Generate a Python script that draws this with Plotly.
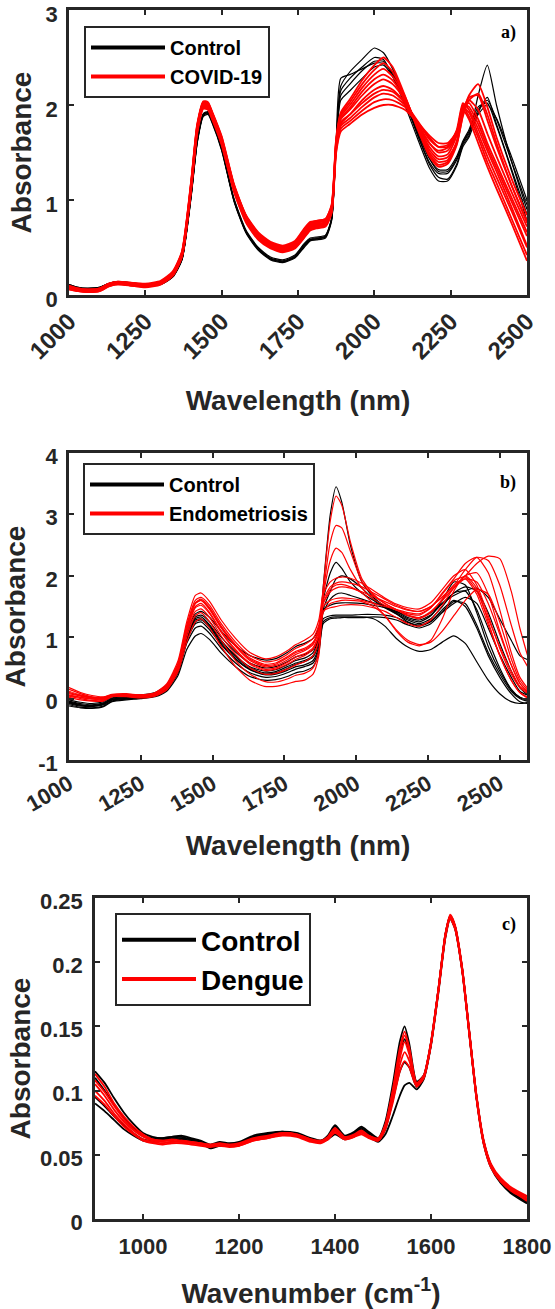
import plotly.graph_objects as go

# ---------------- Panel a: NIR, Control vs COVID-19 ----------------
a_wavelength = [1000, 1030, 1060, 1100, 1130, 1160, 1200, 1250,
                1300, 1340, 1370, 1400, 1420, 1440, 1455, 1470,
                1500, 1540, 1580, 1620, 1660, 1700, 1740, 1770,
                1790, 1810, 1840, 1860, 1875, 1890, 1920, 1960,
                2000, 2030, 2060, 2100, 2140, 2180, 2210, 2240,
                2270, 2290, 2310, 2340, 2370, 2400, 2450, 2500]

a_control = [
    [0.11, 0.08, 0.07, 0.08, 0.12, 0.14, 0.13, 0.11,
     0.12, 0.20, 0.38, 1.05, 1.62, 1.90, 1.92, 1.82,
     1.54, 1.00, 0.66, 0.48, 0.38, 0.35, 0.40, 0.52,
     0.58, 0.59, 0.62, 0.80, 1.60, 2.20, 2.35, 2.48,
     2.60, 2.55, 2.38, 2.06, 1.70, 1.38, 1.24, 1.22,
     1.38, 1.58, 1.68, 2.10, 2.42, 2.00, 1.40, 0.90],
    [0.10, 0.07, 0.06, 0.07, 0.11, 0.13, 0.12, 0.10,
     0.11, 0.19, 0.37, 1.03, 1.60, 1.88, 1.90, 1.80,
     1.52, 0.99, 0.65, 0.47, 0.37, 0.34, 0.39, 0.50,
     0.57, 0.58, 0.60, 0.78, 1.55, 2.10, 2.22, 2.36,
     2.46, 2.46, 2.32, 2.04, 1.70, 1.40, 1.28, 1.28,
     1.42, 1.60, 1.70, 1.95, 2.05, 1.85, 1.40, 0.95],
    [0.09, 0.06, 0.06, 0.07, 0.11, 0.13, 0.12, 0.10,
     0.11, 0.19, 0.37, 1.04, 1.61, 1.89, 1.91, 1.81,
     1.53, 1.00, 0.66, 0.48, 0.38, 0.35, 0.40, 0.51,
     0.58, 0.59, 0.61, 0.79, 1.58, 2.15, 2.28, 2.40,
     2.50, 2.48, 2.30, 2.00, 1.66, 1.34, 1.20, 1.20,
     1.36, 1.56, 1.66, 1.92, 2.08, 1.80, 1.32, 0.85],
    [0.10, 0.07, 0.07, 0.08, 0.12, 0.13, 0.12, 0.11,
     0.12, 0.20, 0.38, 1.06, 1.63, 1.91, 1.93, 1.83,
     1.55, 1.02, 0.68, 0.50, 0.40, 0.37, 0.42, 0.54,
     0.60, 0.61, 0.63, 0.81, 1.58, 2.05, 2.15, 2.28,
     2.40, 2.42, 2.30, 2.04, 1.72, 1.44, 1.32, 1.32,
     1.46, 1.62, 1.74, 1.98, 2.02, 1.78, 1.30, 0.78],
    [0.11, 0.08, 0.07, 0.08, 0.12, 0.14, 0.13, 0.11,
     0.12, 0.20, 0.38, 1.05, 1.62, 1.90, 1.92, 1.82,
     1.54, 1.01, 0.67, 0.49, 0.39, 0.36, 0.41, 0.53,
     0.59, 0.60, 0.62, 0.80, 1.62, 2.28, 2.32, 2.38,
     2.44, 2.44, 2.34, 2.06, 1.74, 1.44, 1.30, 1.30,
     1.44, 1.60, 1.72, 1.90, 2.00, 1.86, 1.45, 1.00],
]

a_covid = [
    [0.06, 0.04, 0.03, 0.04, 0.09, 0.11, 0.10, 0.08,
     0.11, 0.20, 0.40, 1.10, 1.70, 1.96, 1.95, 1.84,
     1.58, 1.09, 0.76, 0.58, 0.49, 0.45, 0.49, 0.60,
     0.68, 0.70, 0.72, 0.86, 1.50, 1.72, 1.80, 1.90,
     1.97, 2.00, 2.00, 1.95, 1.82, 1.68, 1.60, 1.60,
     1.72, 1.95, 1.85, 1.60, 1.35, 1.12, 0.75, 0.36],
    [0.07, 0.05, 0.04, 0.05, 0.10, 0.12, 0.11, 0.09,
     0.12, 0.21, 0.41, 1.12, 1.72, 1.98, 1.97, 1.86,
     1.60, 1.11, 0.78, 0.60, 0.50, 0.46, 0.50, 0.62,
     0.70, 0.72, 0.74, 0.88, 1.55, 1.78, 1.86, 1.98,
     2.08, 2.12, 2.10, 2.00, 1.80, 1.60, 1.52, 1.55,
     1.70, 1.98, 1.92, 1.70, 1.46, 1.24, 0.88, 0.50],
    [0.08, 0.06, 0.05, 0.06, 0.11, 0.13, 0.12, 0.10,
     0.13, 0.23, 0.43, 1.16, 1.76, 2.01, 2.00, 1.89,
     1.63, 1.14, 0.81, 0.63, 0.53, 0.49, 0.53, 0.66,
     0.73, 0.75, 0.77, 0.91, 1.60, 1.85, 1.95, 2.10,
     2.22, 2.27, 2.22, 2.05, 1.80, 1.56, 1.46, 1.48,
     1.68, 2.00, 1.98, 1.80, 1.56, 1.34, 0.98, 0.62],
    [0.09, 0.07, 0.06, 0.07, 0.12, 0.14, 0.13, 0.11,
     0.14, 0.24, 0.45, 1.18, 1.78, 2.03, 2.02, 1.91,
     1.65, 1.16, 0.83, 0.65, 0.55, 0.51, 0.55, 0.68,
     0.75, 0.77, 0.79, 0.93, 1.62, 1.88, 2.00, 2.18,
     2.32, 2.38, 2.30, 2.08, 1.78, 1.50, 1.40, 1.42,
     1.62, 1.96, 2.05, 1.95, 1.70, 1.46, 1.08, 0.72],
    [0.10, 0.07, 0.06, 0.07, 0.12, 0.14, 0.13, 0.12,
     0.15, 0.25, 0.46, 1.20, 1.80, 2.04, 2.03, 1.92,
     1.67, 1.17, 0.84, 0.66, 0.56, 0.52, 0.57, 0.70,
     0.77, 0.78, 0.80, 0.95, 1.65, 1.92, 2.06, 2.26,
     2.42, 2.50, 2.40, 2.10, 1.76, 1.46, 1.35, 1.38,
     1.58, 1.90, 2.10, 2.22, 1.98, 1.66, 1.22, 0.84],
    [0.07, 0.05, 0.04, 0.05, 0.10, 0.12, 0.11, 0.09,
     0.12, 0.22, 0.42, 1.14, 1.74, 1.99, 1.98, 1.87,
     1.61, 1.12, 0.79, 0.61, 0.51, 0.47, 0.51, 0.63,
     0.71, 0.73, 0.75, 0.89, 1.58, 1.82, 1.90, 2.02,
     2.12, 2.16, 2.14, 2.02, 1.84, 1.66, 1.56, 1.56,
     1.74, 2.02, 1.95, 1.75, 1.52, 1.30, 0.92, 0.52],
    [0.08, 0.06, 0.04, 0.05, 0.11, 0.13, 0.12, 0.10,
     0.13, 0.23, 0.44, 1.17, 1.77, 2.02, 2.01, 1.90,
     1.64, 1.15, 0.82, 0.64, 0.54, 0.50, 0.54, 0.67,
     0.74, 0.76, 0.78, 0.92, 1.60, 1.86, 1.97, 2.14,
     2.27, 2.32, 2.26, 2.06, 1.79, 1.53, 1.43, 1.45,
     1.60, 1.88, 2.05, 2.12, 1.90, 1.60, 1.15, 0.76],
    [0.06, 0.04, 0.03, 0.04, 0.09, 0.12, 0.10, 0.09,
     0.12, 0.21, 0.41, 1.13, 1.73, 1.97, 1.96, 1.85,
     1.59, 1.10, 0.77, 0.59, 0.50, 0.46, 0.50, 0.61,
     0.69, 0.71, 0.73, 0.87, 1.52, 1.75, 1.83, 1.94,
     2.03, 2.06, 2.05, 1.98, 1.83, 1.64, 1.56, 1.58,
     1.72, 1.98, 1.88, 1.66, 1.40, 1.18, 0.80, 0.42],
    [0.07, 0.05, 0.04, 0.05, 0.10, 0.13, 0.11, 0.10,
     0.13, 0.22, 0.42, 1.15, 1.75, 2.00, 1.99, 1.88,
     1.62, 1.13, 0.80, 0.62, 0.52, 0.48, 0.52, 0.64,
     0.72, 0.74, 0.76, 0.90, 1.56, 1.80, 1.90, 2.05,
     2.16, 2.20, 2.16, 2.03, 1.82, 1.60, 1.50, 1.52,
     1.70, 1.98, 2.02, 1.85, 1.60, 1.38, 1.02, 0.66],
    [0.09, 0.06, 0.05, 0.06, 0.11, 0.13, 0.12, 0.11,
     0.14, 0.24, 0.45, 1.19, 1.79, 2.03, 2.02, 1.91,
     1.66, 1.16, 0.83, 0.65, 0.55, 0.51, 0.56, 0.69,
     0.76, 0.78, 0.80, 0.94, 1.63, 1.90, 2.03, 2.22,
     2.37, 2.44, 2.35, 2.09, 1.77, 1.48, 1.37, 1.40,
     1.60, 1.93, 2.08, 2.10, 1.84, 1.56, 1.15, 0.78],
]

# ---------------- Panel b: NIR, Control vs Endometriosis ----------------
b_wavelength = [1000, 1040, 1080, 1120, 1150, 1200, 1250, 1300, 1340,
                1380, 1410, 1440, 1460, 1490, 1530, 1580, 1630, 1680,
                1720, 1760, 1790, 1820, 1850, 1870, 1885, 1910, 1930,
                1950, 1980, 2020, 2060, 2100, 2140, 2180, 2220, 2260,
                2300, 2340, 2380, 2420, 2460, 2500, 2540, 2570, 2600]

b_control = [
    [-0.08, -0.12, -0.13, -0.10, -0.02, 0.00, 0.02, 0.05, 0.15,
     0.45, 0.95, 1.22, 1.25, 1.12, 0.88, 0.64, 0.47, 0.39,
     0.40, 0.46, 0.52, 0.55, 0.62, 0.85, 1.30, 1.35, 1.36,
     1.36, 1.36, 1.37, 1.37, 1.36, 1.32, 1.24, 1.20, 1.26,
     1.42, 1.58, 1.55, 1.20, 0.75, 0.40, 0.12, 0.00, -0.05],
    [-0.05, -0.10, -0.11, -0.08, 0.00, 0.02, 0.03, 0.07, 0.18,
     0.50, 1.00, 1.30, 1.33, 1.20, 0.95, 0.70, 0.52, 0.45,
     0.47, 0.55, 0.62, 0.66, 0.75, 1.00, 1.80, 3.00, 3.45,
     3.20, 2.50, 1.90, 1.65, 1.50, 1.38, 1.25, 1.18, 1.25,
     1.45, 1.60, 1.50, 1.15, 0.70, 0.35, 0.08, -0.05, -0.08],
    [-0.10, -0.14, -0.15, -0.12, -0.04, -0.01, 0.01, 0.04, 0.14,
     0.42, 0.90, 1.15, 1.18, 1.06, 0.82, 0.58, 0.42, 0.35,
     0.36, 0.42, 0.48, 0.52, 0.58, 0.80, 1.25, 1.32, 1.33,
     1.33, 1.33, 1.33, 1.30, 1.18, 0.98, 0.84, 0.77, 0.80,
     0.92, 1.02, 0.90, 0.60, 0.30, 0.08, -0.05, -0.08, -0.06],
    [-0.06, -0.10, -0.12, -0.09, -0.01, 0.01, 0.03, 0.06, 0.17,
     0.48, 0.98, 1.28, 1.30, 1.18, 0.93, 0.68, 0.50, 0.42,
     0.44, 0.52, 0.58, 0.62, 0.70, 0.95, 1.60, 2.05, 2.22,
     2.12, 1.90, 1.72, 1.60, 1.48, 1.38, 1.28, 1.22, 1.30,
     1.50, 1.72, 1.75, 1.45, 0.95, 0.50, 0.15, 0.02, -0.02],
    [-0.02, -0.06, -0.08, -0.05, 0.03, 0.05, 0.06, 0.10, 0.22,
     0.55, 1.08, 1.38, 1.42, 1.32, 1.10, 0.86, 0.70, 0.63,
     0.65, 0.75, 0.85, 0.90, 0.98, 1.15, 1.45, 1.52, 1.55,
     1.56, 1.56, 1.55, 1.52, 1.48, 1.42, 1.35, 1.32, 1.40,
     1.55, 1.68, 1.76, 1.80, 1.65, 1.30, 0.95, 0.70, 0.63],
    [-0.07, -0.11, -0.12, -0.09, -0.02, 0.00, 0.02, 0.06, 0.16,
     0.46, 0.96, 1.25, 1.28, 1.16, 0.90, 0.65, 0.48, 0.40,
     0.42, 0.49, 0.56, 0.60, 0.68, 0.90, 1.45, 1.75, 1.95,
     2.00, 1.95, 1.80, 1.62, 1.50, 1.40, 1.30, 1.25, 1.35,
     1.60, 1.90, 1.85, 1.40, 0.85, 0.45, 0.15, 0.02, -0.03],
    [-0.12, -0.15, -0.16, -0.13, -0.05, -0.02, 0.00, 0.03, 0.12,
     0.38, 0.80, 1.02, 1.06, 0.96, 0.74, 0.52, 0.36, 0.30,
     0.31, 0.36, 0.42, 0.45, 0.52, 0.75, 1.22, 1.30, 1.31,
     1.32, 1.32, 1.32, 1.33, 1.32, 1.28, 1.20, 1.15, 1.22,
     1.40, 1.55, 1.65, 1.55, 1.15, 0.72, 0.35, 0.12, 0.05],
    [-0.04, -0.08, -0.10, -0.07, 0.01, 0.03, 0.04, 0.08, 0.19,
     0.50, 1.02, 1.33, 1.36, 1.25, 1.00, 0.76, 0.58, 0.50,
     0.52, 0.60, 0.68, 0.72, 0.80, 1.02, 1.40, 1.62, 1.70,
     1.72, 1.68, 1.62, 1.56, 1.50, 1.42, 1.32, 1.28, 1.36,
     1.55, 1.72, 1.82, 1.75, 1.40, 0.90, 0.45, 0.18, 0.05],
]

b_endometriosis = [
    [0.15, 0.08, 0.03, 0.02, 0.06, 0.06, 0.05, 0.08, 0.20,
     0.55, 1.15, 1.55, 1.60, 1.45, 1.15, 0.85, 0.62, 0.52,
     0.54, 0.63, 0.72, 0.78, 0.88, 1.10, 1.80, 2.90, 3.30,
     3.15, 2.55, 1.95, 1.70, 1.55, 1.45, 1.35, 1.30, 1.40,
     1.62, 1.85, 1.95, 1.70, 1.20, 0.70, 0.30, 0.10, 0.02],
    [0.10, 0.05, 0.01, 0.00, 0.05, 0.05, 0.04, 0.07, 0.19,
     0.53, 1.12, 1.50, 1.55, 1.40, 1.10, 0.80, 0.58, 0.48,
     0.50, 0.59, 0.68, 0.73, 0.83, 1.05, 1.70, 2.55, 2.82,
     2.78, 2.40, 1.90, 1.68, 1.55, 1.45, 1.36, 1.32, 1.42,
     1.60, 1.80, 2.00, 2.05, 1.70, 1.10, 0.55, 0.25, 0.10],
    [0.05, 0.02, 0.00, -0.01, 0.05, 0.05, 0.04, 0.07, 0.18,
     0.52, 1.10, 1.48, 1.52, 1.38, 1.08, 0.78, 0.56, 0.46,
     0.48, 0.56, 0.64, 0.70, 0.80, 1.02, 1.65, 2.25, 2.45,
     2.38, 2.10, 1.80, 1.62, 1.52, 1.44, 1.38, 1.36, 1.48,
     1.72, 1.95, 2.20, 2.30, 2.05, 1.45, 0.75, 0.35, 0.15],
    [0.12, 0.06, 0.02, 0.01, 0.06, 0.07, 0.06, 0.09, 0.22,
     0.58, 1.20, 1.60, 1.65, 1.52, 1.22, 0.92, 0.70, 0.60,
     0.62, 0.72, 0.82, 0.88, 0.98, 1.20, 1.60, 1.82, 1.88,
     1.90, 1.88, 1.82, 1.72, 1.62, 1.52, 1.45, 1.42, 1.50,
     1.65, 1.82, 2.00, 2.20, 2.32, 2.28, 1.75, 1.15, 0.65],
    [0.02, -0.02, -0.04, -0.04, 0.03, 0.03, 0.01, 0.04, 0.14,
     0.44, 0.92, 1.25, 1.30, 1.15, 0.85, 0.52, 0.30, 0.20,
     0.20, 0.24, 0.28, 0.30, 0.40, 0.70, 1.40, 1.55, 1.58,
     1.60, 1.60, 1.58, 1.50, 1.35, 1.12, 0.95, 0.88, 0.92,
     1.10, 1.35, 1.60, 1.78, 1.70, 1.25, 0.65, 0.30, 0.12],
    [0.18, 0.10, 0.05, 0.03, 0.07, 0.08, 0.06, 0.10, 0.24,
     0.62, 1.25, 1.68, 1.72, 1.58, 1.28, 0.98, 0.75, 0.65,
     0.68, 0.78, 0.88, 0.95, 1.05, 1.28, 1.70, 1.90, 1.96,
     1.98, 1.96, 1.88, 1.76, 1.64, 1.54, 1.48, 1.46, 1.56,
     1.78, 2.00, 2.10, 1.85, 1.35, 0.82, 0.40, 0.18, 0.08],
    [0.08, 0.04, 0.01, 0.00, 0.05, 0.06, 0.05, 0.08, 0.20,
     0.56, 1.16, 1.55, 1.60, 1.46, 1.16, 0.86, 0.64, 0.54,
     0.56, 0.66, 0.75, 0.80, 0.90, 1.12, 1.55, 1.74, 1.80,
     1.82, 1.80, 1.74, 1.66, 1.58, 1.50, 1.44, 1.42, 1.50,
     1.66, 1.84, 2.10, 2.30, 2.25, 1.85, 1.20, 0.75, 0.50],
    [0.06, 0.02, -0.01, -0.02, 0.04, 0.05, 0.03, 0.06, 0.17,
     0.50, 1.06, 1.42, 1.46, 1.32, 1.02, 0.72, 0.50, 0.40,
     0.41, 0.48, 0.55, 0.60, 0.70, 0.95, 1.55, 1.78, 1.85,
     1.86, 1.82, 1.72, 1.55, 1.35, 1.10, 0.92, 0.86, 0.95,
     1.30, 1.75, 2.00, 1.80, 1.25, 0.70, 0.30, 0.10, 0.00],
    [0.10, 0.05, 0.02, 0.01, 0.06, 0.06, 0.05, 0.08, 0.20,
     0.56, 1.16, 1.56, 1.62, 1.48, 1.18, 0.88, 0.66, 0.56,
     0.58, 0.68, 0.77, 0.82, 0.92, 1.14, 1.50, 1.60, 1.63,
     1.64, 1.63, 1.60, 1.55, 1.50, 1.45, 1.40, 1.38, 1.48,
     1.70, 1.92, 1.98, 1.75, 1.30, 0.85, 0.45, 0.20, 0.10],
    [0.04, 0.00, -0.03, -0.03, 0.04, 0.04, 0.02, 0.05, 0.15,
     0.47, 1.00, 1.35, 1.40, 1.25, 0.95, 0.62, 0.40, 0.28,
     0.27, 0.32, 0.38, 0.41, 0.50, 0.78, 1.42, 1.48, 1.50,
     1.52, 1.53, 1.52, 1.48, 1.42, 1.32, 1.22, 1.18, 1.28,
     1.52, 1.80, 1.95, 1.90, 1.55, 1.05, 0.55, 0.25, 0.08],
]

# ---------------- Panel c: MIR, Control vs Dengue ----------------
c_wavenumber = [900, 920, 940, 960, 980, 1000, 1020,
                1040, 1060, 1080, 1100, 1120, 1140, 1160,
                1180, 1200, 1230, 1260, 1290, 1320, 1350,
                1370, 1385, 1400, 1420, 1440, 1455, 1470,
                1490, 1505, 1520, 1535, 1545, 1555, 1570,
                1585, 1600, 1615, 1630, 1640, 1650, 1665,
                1680, 1695, 1710, 1725, 1745, 1770, 1800]

c_control = [
    [0.115, 0.106, 0.094, 0.083, 0.074, 0.067, 0.064,
     0.063, 0.064, 0.065, 0.063, 0.061, 0.058, 0.060,
     0.059, 0.060, 0.065, 0.067, 0.068, 0.067, 0.063,
     0.061, 0.065, 0.073, 0.065, 0.068, 0.072, 0.068,
     0.063, 0.076, 0.104, 0.138, 0.150, 0.136, 0.107,
     0.112, 0.138, 0.178, 0.222, 0.236, 0.228, 0.195,
     0.145, 0.095, 0.060, 0.042, 0.031, 0.022, 0.015],
    [0.090, 0.084, 0.077, 0.070, 0.065, 0.061, 0.060,
     0.061, 0.062, 0.062, 0.061, 0.059, 0.055, 0.057,
     0.057, 0.058, 0.063, 0.066, 0.067, 0.065, 0.062,
     0.060, 0.062, 0.066, 0.062, 0.065, 0.068, 0.064,
     0.060, 0.066, 0.080, 0.096, 0.104, 0.106, 0.101,
     0.109, 0.135, 0.175, 0.219, 0.234, 0.226, 0.193,
     0.143, 0.093, 0.058, 0.040, 0.028, 0.019, 0.012],
    [0.095, 0.088, 0.080, 0.073, 0.067, 0.062, 0.061,
     0.062, 0.063, 0.063, 0.062, 0.060, 0.056, 0.058,
     0.058, 0.059, 0.064, 0.066, 0.068, 0.066, 0.062,
     0.060, 0.063, 0.070, 0.063, 0.066, 0.070, 0.066,
     0.061, 0.070, 0.092, 0.115, 0.122, 0.118, 0.103,
     0.110, 0.136, 0.177, 0.221, 0.235, 0.227, 0.194,
     0.144, 0.094, 0.059, 0.041, 0.029, 0.020, 0.013],
    [0.110, 0.100, 0.089, 0.079, 0.071, 0.065, 0.063,
     0.063, 0.064, 0.064, 0.062, 0.060, 0.057, 0.059,
     0.058, 0.059, 0.064, 0.066, 0.067, 0.066, 0.062,
     0.061, 0.064, 0.072, 0.064, 0.067, 0.071, 0.067,
     0.062, 0.074, 0.100, 0.130, 0.140, 0.130, 0.105,
     0.111, 0.137, 0.177, 0.221, 0.236, 0.228, 0.195,
     0.145, 0.095, 0.060, 0.042, 0.030, 0.021, 0.014],
]

c_dengue = [
    [0.113, 0.103, 0.090, 0.080, 0.072, 0.066, 0.062,
     0.061, 0.062, 0.061, 0.060, 0.059, 0.058, 0.059,
     0.058, 0.059, 0.063, 0.065, 0.067, 0.066, 0.062,
     0.061, 0.064, 0.071, 0.064, 0.066, 0.069, 0.065,
     0.063, 0.074, 0.100, 0.133, 0.146, 0.133, 0.106,
     0.112, 0.138, 0.178, 0.222, 0.236, 0.228, 0.195,
     0.145, 0.095, 0.060, 0.042, 0.031, 0.023, 0.017],
    [0.105, 0.096, 0.085, 0.076, 0.069, 0.064, 0.061,
     0.060, 0.060, 0.061, 0.060, 0.058, 0.057, 0.058,
     0.057, 0.058, 0.062, 0.064, 0.066, 0.065, 0.061,
     0.060, 0.063, 0.069, 0.063, 0.065, 0.068, 0.064,
     0.062, 0.072, 0.095, 0.125, 0.138, 0.128, 0.104,
     0.111, 0.137, 0.177, 0.221, 0.235, 0.227, 0.194,
     0.144, 0.094, 0.059, 0.041, 0.030, 0.022, 0.016],
    [0.100, 0.092, 0.082, 0.074, 0.067, 0.062, 0.060,
     0.059, 0.060, 0.060, 0.059, 0.058, 0.057, 0.058,
     0.057, 0.057, 0.061, 0.063, 0.066, 0.065, 0.061,
     0.060, 0.062, 0.068, 0.062, 0.064, 0.067, 0.064,
     0.061, 0.070, 0.090, 0.115, 0.123, 0.118, 0.103,
     0.110, 0.136, 0.176, 0.220, 0.234, 0.226, 0.193,
     0.143, 0.093, 0.058, 0.040, 0.029, 0.021, 0.015],
    [0.108, 0.099, 0.088, 0.078, 0.070, 0.065, 0.062,
     0.061, 0.061, 0.060, 0.060, 0.059, 0.058, 0.058,
     0.058, 0.058, 0.062, 0.064, 0.067, 0.066, 0.062,
     0.060, 0.063, 0.070, 0.063, 0.065, 0.068, 0.065,
     0.062, 0.073, 0.098, 0.130, 0.143, 0.131, 0.105,
     0.111, 0.137, 0.178, 0.222, 0.237, 0.229, 0.196,
     0.146, 0.096, 0.061, 0.043, 0.032, 0.024, 0.018],
    [0.096, 0.089, 0.080, 0.072, 0.066, 0.061, 0.059,
     0.058, 0.059, 0.059, 0.058, 0.057, 0.056, 0.057,
     0.056, 0.057, 0.061, 0.063, 0.065, 0.064, 0.060,
     0.059, 0.062, 0.067, 0.062, 0.064, 0.066, 0.063,
     0.061, 0.071, 0.093, 0.120, 0.130, 0.123, 0.104,
     0.110, 0.136, 0.176, 0.220, 0.235, 0.227, 0.194,
     0.144, 0.094, 0.059, 0.041, 0.030, 0.022, 0.014],
]

a_ticks = [1000, 1250, 1500, 1750, 2000, 2250, 2500]
a_yticks = [0, 1, 2, 3]
b_ticks = [1000, 1250, 1500, 1750, 2000, 2250, 2500]
b_yticks = [-1, 0, 1, 2, 3, 4]
b_yticktext = ["-1", "0", "1", "2", "3", "4"]
c_ticks = [1000, 1200, 1400, 1600, 1800]
c_yticks = [0, 0.05, 0.1, 0.15, 0.2, 0.25]
c_yticktext = ["0", "0.05", "0.1", "0.15", "0.2", "0.25"]

# ---------------- Figure ----------------
W, H = 555, 1309
BLACK = "#000000"
RED = "#ff0000"
AXC = "#262626"
SANS = "Liberation Sans, Arial, Helvetica, sans-serif"
SERIF = "Liberation Serif, Times New Roman, serif"

fig = go.Figure()


def add_group(xs, curves, color, width, xa, ya):
    for ys in curves:
        fig.add_trace(go.Scatter(
            x=xs, y=ys, mode="lines", xaxis=xa, yaxis=ya,
            line=dict(color=color, width=width, shape="spline", smoothing=0.6),
            showlegend=False, hoverinfo="skip"))


def add_legend_entry(name, color, xa, ya, legend):
    fig.add_trace(go.Scatter(
        x=[None], y=[None], mode="lines", xaxis=xa, yaxis=ya, name=name,
        line=dict(color=color, width=4), legend=legend, showlegend=True))


add_group(a_wavelength, a_control, BLACK, 1.2, "x", "y")
add_group(a_wavelength, a_covid, RED, 1.8, "x", "y")
add_legend_entry("Control", BLACK, "x", "y", "legend")
add_legend_entry("COVID-19", RED, "x", "y", "legend")

add_group(b_wavelength, b_control, BLACK, 1.2, "x2", "y2")
add_group(b_wavelength, b_endometriosis, RED, 1.2, "x2", "y2")
add_legend_entry("Control", BLACK, "x2", "y2", "legend2")
add_legend_entry("Endometriosis", RED, "x2", "y2", "legend2")

add_group(c_wavenumber, c_control, BLACK, 1.8, "x3", "y3")
add_group(c_wavenumber, c_dengue, RED, 1.8, "x3", "y3")
add_legend_entry("Control", BLACK, "x3", "y3", "legend3")
add_legend_entry("Dengue", RED, "x3", "y3", "legend3")


def px_x(p):
    return p / W


def px_y(p):
    return 1 - p / H


tickfont = dict(family=SANS, size=22, color=AXC, weight="bold")
titlefont = dict(family=SANS, size=28, color=AXC, weight="bold")
common = dict(showline=True, linewidth=2.5, linecolor=AXC, mirror="ticks",
              ticks="inside", ticklen=5, tickwidth=2, tickcolor=AXC,
              showgrid=False, zeroline=False, tickfont=tickfont,
              automargin=False, ticklabeloverflow="allow")


def legend_cfg(x, y, size):
    return dict(x=px_x(x), y=px_y(y), xanchor="left", yanchor="top",
                bgcolor="white", bordercolor=AXC, borderwidth=2,
                font=dict(family=SANS, size=size, color="#000", weight="bold"),
                itemwidth=74, tracegroupgap=0)


fig.update_layout(
    template="none",
    width=W, height=H, margin=dict(l=0, r=0, t=0, b=0, pad=0),
    paper_bgcolor="white", plot_bgcolor="white",
    xaxis=dict(common, domain=[px_x(69), px_x(527)], anchor="y",
               range=[1000, 2500], tickvals=a_ticks, tickangle=-45,
               tickfont=dict(tickfont, size=24),
               title=dict(text="Wavelength (nm)", font=titlefont, standoff=28)),
    yaxis=dict(common, domain=[px_y(295), px_y(10)], anchor="x",
               range=[0, 3], tickvals=a_yticks, ticklabelstandoff=4,
               ticklabelshift=4,
               title=dict(text="Absorbance", font=titlefont, standoff=6)),
    xaxis2=dict(common, domain=[px_x(69), px_x(527)], anchor="y2",
                range=[1000, 2595], tickvals=b_ticks, tickangle=-30,
                title=dict(text="Wavelength (nm)", font=titlefont, standoff=20)),
    yaxis2=dict(common, domain=[px_y(760), px_y(453)], anchor="x2",
                range=[-1, 4], tickvals=b_yticks, ticktext=b_yticktext,
                ticklabelstandoff=4, ticklabelshift=3,
                title=dict(text="Absorbance", font=titlefont, standoff=6)),
    xaxis3=dict(common, domain=[px_x(95), px_x(527)], anchor="y3",
                range=[900, 1800], tickvals=c_ticks, ticklabelstandoff=6,
                title=dict(text="Wavenumber (cm<sup>-1</sup>)", font=titlefont, standoff=30)),
    yaxis3=dict(common, domain=[px_y(1219), px_y(898)], anchor="x3",
                range=[0, 0.25], tickvals=c_yticks, ticktext=c_yticktext,
                ticklabelstandoff=5, ticklabelshift=3,
                title=dict(text="Absorbance", font=titlefont, standoff=2)),
    legend=legend_cfg(84, 26, 20),
    legend2=legend_cfg(83, 463, 20),
    legend3=legend_cfg(115, 913, 28),
    annotations=[
        dict(text="a)", x=px_x(518), y=px_y(32), xref="paper", yref="paper",
             xanchor="right", yanchor="middle", showarrow=False,
             font=dict(family=SERIF, size=18, color="#000", weight="bold")),
        dict(text="b)", x=px_x(518), y=px_y(483), xref="paper", yref="paper",
             xanchor="right", yanchor="middle", showarrow=False,
             font=dict(family=SERIF, size=18, color="#000", weight="bold")),
        dict(text="c)", x=px_x(518), y=px_y(924), xref="paper", yref="paper",
             xanchor="right", yanchor="middle", showarrow=False,
             font=dict(family=SERIF, size=18, color="#000", weight="bold")),
    ],
)

fig.write_html("out.html")
